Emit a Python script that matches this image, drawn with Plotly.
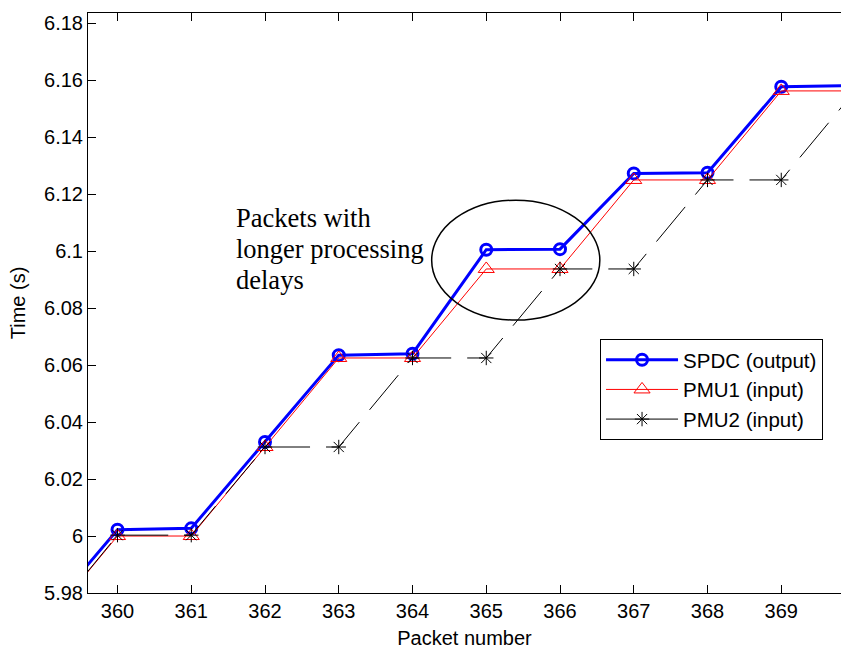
import plotly.graph_objects as go

packets = [359, 360, 361, 362, 363, 364, 365, 366, 367, 368, 369, 370]
spdc = [5.9717, 6.0022, 6.0027, 6.0330, 6.0635, 6.0640, 6.1005, 6.1007, 6.1273, 6.1275, 6.1577, 6.1582]
pmu1 = [5.96875, 6.0, 6.0, 6.03125, 6.0625, 6.0625, 6.09375, 6.09375, 6.125, 6.125, 6.15625, 6.15625]
pmu2 = [5.96875, 6.0003, 6.0003, 6.03125, 6.03125, 6.0625, 6.0625, 6.09375, 6.09375, 6.125, 6.125, 6.15625]

x_ticks = [360, 361, 362, 363, 364, 365, 366, 367, 368, 369]
y_ticks = [5.98, 6.0, 6.02, 6.04, 6.06, 6.08, 6.1, 6.12, 6.14, 6.16, 6.18]
y_tick_text = ["5.98", "6", "6.02", "6.04", "6.06", "6.08", "6.1", "6.12", "6.14", "6.16", "6.18"]

x_range = [359.6, 369.81]
y_range = [5.98, 6.1836]

ellipse_x = [364.26, 366.54]
ellipse_y = [6.0758, 6.1179]

note_lines = ["Packets with", "longer processing", "delays"]
note_x = 361.58
note_y_top = 6.1117
note_line_step = 0.01088

SANS = "Liberation Sans, Arial, sans-serif"
SERIF = "Liberation Serif, Times New Roman, serif"

pmu2_marker = dict(symbol="asterisk-open", size=12, color="#000000", line=dict(width=1, color="#000000"))

fig = go.Figure()
fig.add_trace(go.Scatter(
    x=packets, y=spdc, mode="lines+markers", name="SPDC (output)",
    line=dict(color="#0000ff", width=3),
    marker=dict(symbol="circle-open", size=11, color="#0000ff", line=dict(width=3, color="#0000ff")),
))
fig.add_trace(go.Scatter(
    x=packets, y=pmu1, mode="lines+markers", name="PMU1 (input)",
    line=dict(color="#ff0000", width=1),
    marker=dict(symbol="triangle-up-open", size=14, color="#ff0000", line=dict(width=1, color="#ff0000")),
))
# legend entry for PMU2 (solid sample line, as in the reference legend)
fig.add_trace(go.Scatter(
    x=[None], y=[None], mode="lines+markers", name="PMU2 (input)",
    line=dict(color="#000000", width=1), marker=pmu2_marker,
))
fig.add_trace(go.Scatter(
    x=packets, y=pmu2, mode="lines+markers", name="PMU2 (input)", showlegend=False,
    line=dict(color="#000000", width=1, dash="45px,16px"),
    marker=pmu2_marker,
))

fig.add_shape(type="circle", xref="x", yref="y",
              x0=ellipse_x[0], x1=ellipse_x[1], y0=ellipse_y[0], y1=ellipse_y[1],
              line=dict(color="black", width=1.5))

for i, txt in enumerate(note_lines):
    fig.add_annotation(x=note_x, y=note_y_top - i * note_line_step, xref="x", yref="y", text=txt,
                       showarrow=False, xanchor="left", yanchor="middle", align="left",
                       font=dict(family=SERIF, size=26.5, color="black"))

fig.update_layout(
    width=841, height=649,
    margin=dict(l=88, r=0, t=13, b=56, autoexpand=False),
    paper_bgcolor="white", plot_bgcolor="white",
    showlegend=True,
    legend=dict(x=0.68, y=0.438, xanchor="left", yanchor="top",
                bordercolor="black", borderwidth=1, bgcolor="white",
                font=dict(family=SANS, size=20.5, color="black"),
                itemwidth=72, tracegroupgap=0),
    font=dict(family=SANS, size=20, color="black"),
)
fig.update_xaxes(range=x_range, tickvals=x_ticks, ticks="inside", ticklen=8, tickcolor="black",
                 showline=True, linecolor="black", linewidth=1, mirror="ticks",
                 showgrid=False, zeroline=False, automargin=False,
                 title=dict(text="Packet number", font=dict(family=SANS, size=20), standoff=9),
                 tickfont=dict(family=SANS, size=20))
fig.update_yaxes(range=y_range, tickvals=y_ticks, ticktext=y_tick_text, ticks="inside", ticklen=8,
                 tickcolor="black", showline=True, linecolor="black", linewidth=1, mirror=False,
                 showgrid=False, zeroline=False, automargin=False,
                 title=dict(text="Time (s)", font=dict(family=SANS, size=20), standoff=13),
                 tickfont=dict(family=SANS, size=20))

fig.write_html("out.html", config={"displayModeBar": False},
               post_script="document.body.style.margin='0';document.body.style.overflow='hidden';")
